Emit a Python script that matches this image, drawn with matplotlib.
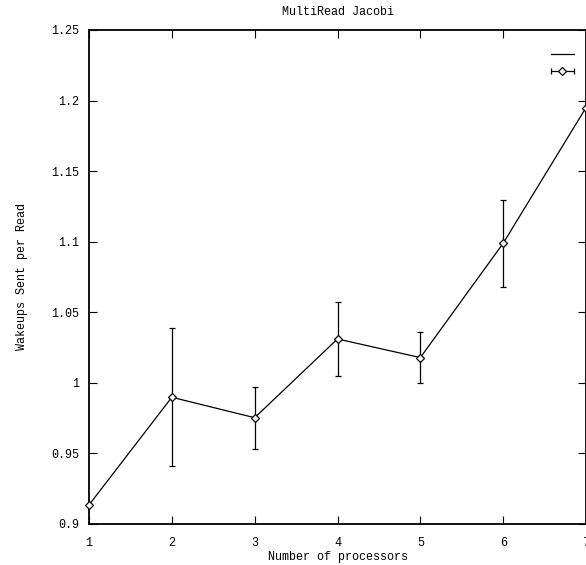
import numpy as np
import matplotlib
matplotlib.use("Agg")
from matplotlib import pyplot as plt
from matplotlib.container import ErrorbarContainer
from matplotlib.legend_handler import HandlerErrorbar

# values
procs = [1, 2, 3, 4, 5, 6, 7]
wakeups = [0.9135, 0.9898, 0.9753, 1.0311, 1.0179, 1.0989, 1.1950]
err = [0.0, 0.049, 0.022, 0.026, 0.018, 0.031, 0.0]

yticks = [0.9, 0.95, 1.0, 1.05, 1.1, 1.15, 1.2, 1.25]
ytick_labels = ['0.9', '0.95', '1', '1.05', '1.1', '1.15', '1.2', '1.25']

plt.rcParams['font.family'] = ['Liberation Mono', 'DejaVu Sans Mono']
plt.rcParams['font.size'] = 8.5

fig = plt.figure(figsize=(5.86, 5.65), dpi=100)
ax = fig.add_axes([89 / 586, 1 - 524 / 565, 497 / 586, 494 / 565])

line, = ax.plot(procs, wakeups, color='black', lw=0.9)
ax.errorbar(procs, wakeups, yerr=err, fmt='none', ecolor='black',
            elinewidth=0.9, capsize=2.2, capthick=0.9)
ax.plot(procs, wakeups, ls='none', marker='D', markersize=3.6,
        markerfacecolor='white', markeredgecolor='black', markeredgewidth=0.9,
        clip_on=False, zorder=5)

# dummy handle so the key shows a horizontal bar like gnuplot does
key_err = ax.errorbar([np.nan], [np.nan], xerr=[0.1], fmt='D', color='black',
                      markersize=3.6, markerfacecolor='white', markeredgewidth=0.9,
                      elinewidth=0.9, capsize=2.2, capthick=0.9)

ax.legend([line, key_err], ['', ''], loc='upper right',
          bbox_to_anchor=(0.975, 0.96), frameon=False, fontsize=8,
          handlelength=2.0, handletextpad=0, borderpad=0, borderaxespad=0,
          labelspacing=0.6,
          handler_map={ErrorbarContainer: HandlerErrorbar(xerr_size=1.0)})

ax.set_xlim(1, 7)
ax.set_ylim(0.9, 1.25)
ax.set_xticks(procs)
ax.set_yticks(yticks)
ax.set_yticklabels(ytick_labels)
ax.tick_params(direction='in', length=6, width=0.8, top=True, right=True,
               colors='black')
ax.tick_params(axis='x', pad=9)
ax.tick_params(axis='y', pad=7)
for s in ax.spines.values():
    s.set_linewidth(1.3)

ax.set_title('MultiRead Jacobi', fontsize=8.5, pad=11)
ax.set_xlabel('Number of processors', labelpad=2)
ax.set_ylabel('Wakeups Sent per Read', labelpad=17)

fig.savefig('out.png', dpi=100)
